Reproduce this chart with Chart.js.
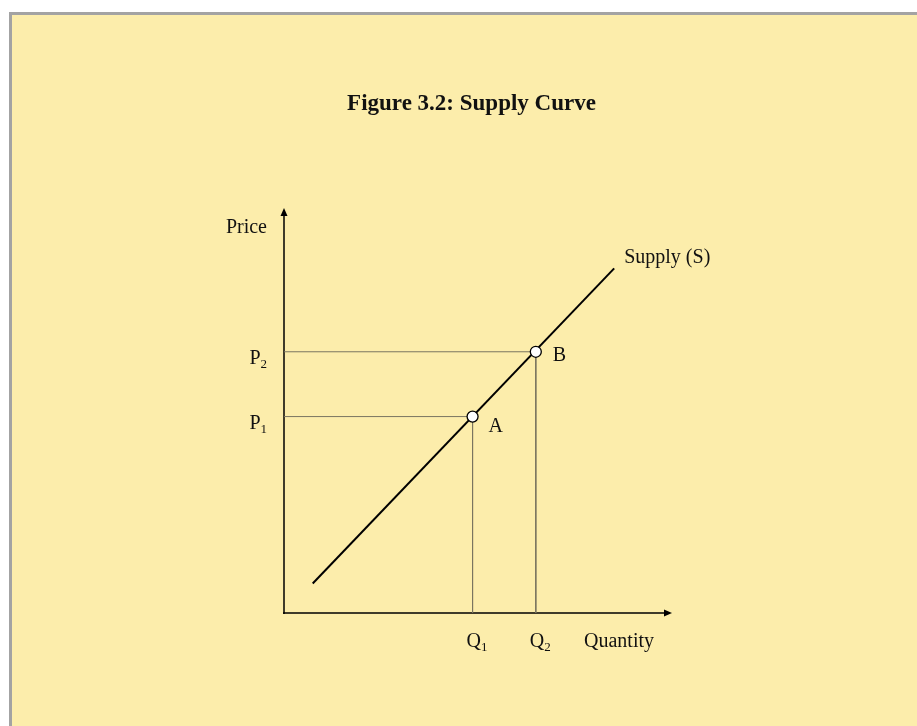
<!DOCTYPE html>
<html>
<head>
<meta charset="utf-8">
<script src="https://cdn.jsdelivr.net/npm/chart.js@4/dist/chart.umd.min.js"></script>
<style>
  html, body { margin: 0; padding: 0; background: #ffffff; }
  canvas { display: block; }
</style>
</head>
<body>
<canvas id="c" width="917" height="726"></canvas>
<script>
// ---- data ----
const chartTitle = 'Figure 3.2: Supply Curve';
const supplyName = 'Supply (S)';
const supplyX = [0.74, 8.51];
const supplyY = [0.73, 8.51];
const pointLabels = ['A', 'B'];
const quantities = [4.86, 6.49];   // Q1, Q2
const prices = [4.85, 6.45];       // P1, P2
const quantityTickLabels = [['Q', '1'], ['Q', '2']];
const priceTickLabels = [['P', '1'], ['P', '2']];
const xAxisTitle = 'Quantity';
const yAxisTitle = 'Price';
const axisMin = 0;
const axisMax = 10;

const FONT = "'Liberation Serif', 'Times New Roman', serif";
const TEXT = '#111111';

const supplyData = supplyX.map((x, i) => ({ x: x, y: supplyY[i] }));
const pointData = quantities.map((q, i) => ({ x: q, y: prices[i] }));
const guideDatasets = quantities.map((q, i) => ({
  label: 'guide' + i,
  data: [{ x: axisMin, y: prices[i] }, { x: q, y: prices[i] }, { x: q, y: axisMin }],
  showLine: true,
  borderColor: '#7a7660',
  borderWidth: 1,
  pointRadius: 0,
  pointHoverRadius: 0,
  fill: false,
  order: 3
}));

function drawSub(ctx, main, sub, x, y, align) {
  ctx.font = '20px ' + FONT;
  const w1 = ctx.measureText(main).width;
  ctx.font = '13px ' + FONT;
  const w2 = ctx.measureText(sub).width;
  let left = x;
  if (align === 'right') left = x - w1 - w2;
  ctx.textAlign = 'left';
  ctx.font = '20px ' + FONT;
  ctx.fillText(main, left, y);
  ctx.font = '13px ' + FONT;
  ctx.fillText(sub, left + w1, y + 4);
}

const decor = {
  id: 'decor',
  beforeDraw(chart) {
    const ctx = chart.ctx;
    ctx.save();
    ctx.fillStyle = '#ffffff';
    ctx.fillRect(0, 0, chart.width, chart.height);
    ctx.fillStyle = '#a3a3a3';
    ctx.fillRect(9, 12, chart.width - 9, chart.height - 12);
    ctx.fillStyle = '#fcedab';
    ctx.fillRect(12, 15, chart.width - 12, chart.height - 15);
    // title
    ctx.fillStyle = TEXT;
    ctx.font = 'bold 23px ' + FONT;
    ctx.textAlign = 'center';
    ctx.textBaseline = 'alphabetic';
    ctx.fillText(chartTitle, 471.5, 110);
    ctx.restore();
  },
  beforeDatasetsDraw(chart) {
    const ctx = chart.ctx;
    const xs = chart.scales.x, ys = chart.scales.y;
    const x0 = xs.getPixelForValue(axisMin);
    const y0 = ys.getPixelForValue(axisMin);
    const xEnd = xs.getPixelForValue(axisMax);
    const yEnd = ys.getPixelForValue(axisMax);
    ctx.save();
    ctx.strokeStyle = '#000';
    ctx.fillStyle = '#000';
    ctx.lineWidth = 1.5;
    ctx.beginPath();
    ctx.moveTo(x0 - 1, y0);
    ctx.lineTo(xEnd - 6, y0);
    ctx.moveTo(x0, y0 + 1);
    ctx.lineTo(x0, yEnd + 6);
    ctx.stroke();
    // arrow heads
    ctx.beginPath();
    ctx.moveTo(xEnd, y0);
    ctx.lineTo(xEnd - 8, y0 - 3.5);
    ctx.lineTo(xEnd - 8, y0 + 3.5);
    ctx.closePath();
    ctx.fill();
    ctx.beginPath();
    ctx.moveTo(x0, yEnd);
    ctx.lineTo(x0 - 3.5, yEnd + 8);
    ctx.lineTo(x0 + 3.5, yEnd + 8);
    ctx.closePath();
    ctx.fill();
    ctx.restore();
  },
  afterDraw(chart) {
    const ctx = chart.ctx;
    const xs = chart.scales.x, ys = chart.scales.y;
    const x0 = xs.getPixelForValue(axisMin);
    const y0 = ys.getPixelForValue(axisMin);
    const xEnd = xs.getPixelForValue(axisMax);
    const yEnd = ys.getPixelForValue(axisMax);
    ctx.save();
    ctx.fillStyle = TEXT;
    ctx.textBaseline = 'alphabetic';
    // y-axis title
    ctx.font = '20px ' + FONT;
    ctx.textAlign = 'right';
    ctx.fillText(yAxisTitle, x0 - 17, yEnd + 25);
    // x-axis title
    ctx.textAlign = 'left';
    ctx.fillText(xAxisTitle, xEnd - 88, y0 + 34);
    // price ticks
    prices.forEach((p, i) => {
      const py = ys.getPixelForValue(p);
      drawSub(ctx, priceTickLabels[i][0], priceTickLabels[i][1], x0 - 17, py + 12, 'right');
    });
    // quantity ticks
    quantities.forEach((q, i) => {
      const px = xs.getPixelForValue(q);
      drawSub(ctx, quantityTickLabels[i][0], quantityTickLabels[i][1], px - 6, y0 + 34, 'left');
    });
    // point labels
    ctx.font = '20px ' + FONT;
    ctx.textAlign = 'left';
    const offs = [[16, 15], [17, 9]];
    pointData.forEach((pt, i) => {
      const px = xs.getPixelForValue(pt.x);
      const py = ys.getPixelForValue(pt.y);
      ctx.fillText(pointLabels[i], px + offs[i][0], py + offs[i][1]);
    });
    // supply label
    const last = supplyData[supplyData.length - 1];
    ctx.fillText(supplyName, xs.getPixelForValue(last.x) + 10, ys.getPixelForValue(last.y) - 5);
    ctx.restore();
  }
};

new Chart(document.getElementById('c'), {
  type: 'scatter',
  data: {
    datasets: [
      {
        label: 'points',
        data: pointData,
        pointRadius: 5.5,
        pointHoverRadius: 5.5,
        pointBackgroundColor: '#ffffff',
        pointBorderColor: '#000000',
        pointBorderWidth: 1.3,
        showLine: false,
        order: 1
      },
      {
        label: supplyName,
        data: supplyData,
        showLine: true,
        borderColor: '#000000',
        borderWidth: 2,
        pointRadius: 0,
        pointHoverRadius: 0,
        fill: false,
        order: 2
      },
      ...guideDatasets
    ]
  },
  options: {
    responsive: false,
    animation: false,
    devicePixelRatio: 1,
    events: [],
    layout: { padding: { left: 284, right: 245, top: 208, bottom: 113 } },
    plugins: {
      legend: { display: false },
      title: { display: false },
      tooltip: { enabled: false }
    },
    scales: {
      x: { type: 'linear', min: axisMin, max: axisMax, display: false },
      y: { type: 'linear', min: axisMin, max: axisMax, display: false }
    }
  },
  plugins: [decor]
});
</script>
</body>
</html>
